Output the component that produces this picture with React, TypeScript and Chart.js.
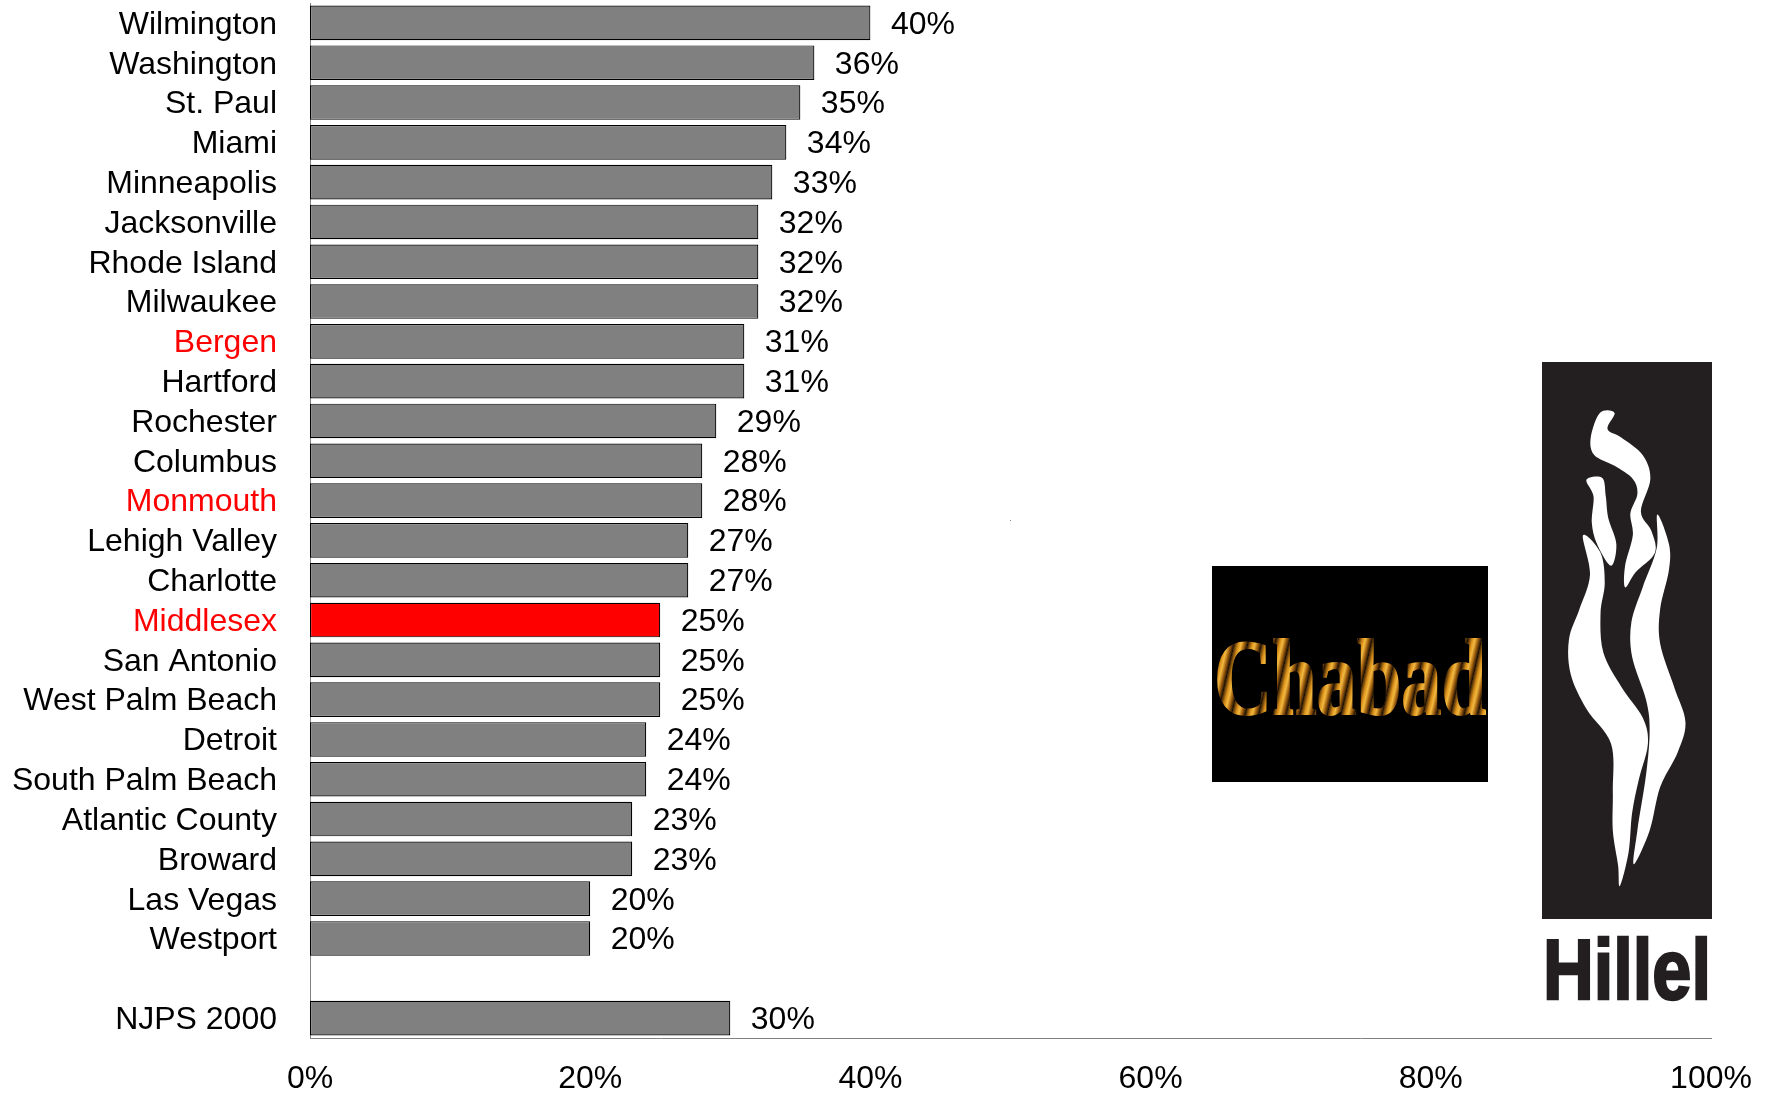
import React, { useEffect, useRef } from "react";
import { Chart, registerables } from "chart.js";

Chart.register(...registerables);

const categories = ["Wilmington","Washington","St. Paul","Miami","Minneapolis","Jacksonville","Rhode Island","Milwaukee","Bergen","Hartford","Rochester","Columbus","Monmouth","Lehigh Valley","Charlotte","Middlesex","San Antonio","West Palm Beach","Detroit","South Palm Beach","Atlantic County","Broward","Las Vegas","Westport","","NJPS 2000"];
const values = [40,36,35,34,33,32,32,32,31,31,29,28,28,27,27,25,25,25,24,24,23,23,20,20,null,30];
const redLabels = ["Bergen","Monmouth","Middlesex"];
const redBars = ["Middlesex"];
const xTicks = [0,20,40,60,80,100];

const FONT = "'Liberation Sans', Arial, sans-serif";
const FONT_SIZE = 32;

const flames = [
  [[1210,168],[1168,168],[1142,225],[1152,265],[1210,290],[1262,320],[1275,355],[1255,400],[1262,450],[1240,520],[1240,570],[1270,535],[1325,490],[1315,440],[1285,395],[1312,320],[1290,265],[1230,225],[1190,205]],
  [[1130,322],[1175,318],[1185,360],[1192,410],[1215,470],[1200,520],[1160,470],[1145,420],[1150,360]],
  [[1120,450],[1170,490],[1182,560],[1170,630],[1178,720],[1230,800],[1290,870],[1305,930],[1280,1010],[1260,1090],[1250,1180],[1225,1258],[1220,1210],[1205,1130],[1205,1040],[1200,930],[1130,850],[1085,770],[1080,690],[1110,620],[1140,540]],
  [[1332,402],[1365,470],[1365,530],[1340,620],[1340,700],[1380,800],[1412,880],[1390,950],[1340,1030],[1310,1130],[1265,1208],[1275,1130],[1300,1000],[1310,900],[1300,830],[1260,730],[1258,650],[1290,570],[1330,480]],
];

function smooth(p: number[][]) {
  const n = p.length;
  let d = `M${p[0][0]} ${p[0][1]}`;
  for (let i = 0; i < n; i++) {
    const a = p[(i - 1 + n) % n], b = p[i], c = p[(i + 1) % n], e = p[(i + 2) % n];
    const c1x = b[0] + (c[0] - a[0]) / 6, c1y = b[1] + (c[1] - a[1]) / 6;
    const c2x = c[0] - (e[0] - b[0]) / 6, c2y = c[1] - (e[1] - b[1]) / 6;
    d += ` C${c1x} ${c1y} ${c2x} ${c2y} ${c[0]} ${c[1]}`;
  }
  return d + "Z";
}

const valueLabels = {
  id: "valueLabels",
  beforeDraw(chart: any) {
    chart.scales.y.getLabelItems().forEach((item: any) => {
      item.options.translation = [item.options.translation[0], item.options.translation[1] + 2];
    });
  },
  afterDatasetsDraw(chart: any) {
    const { ctx } = chart;
    const meta = chart.getDatasetMeta(0);
    ctx.save();
    ctx.font = `${FONT_SIZE}px ${FONT}`;
    ctx.fillStyle = "#000";
    ctx.textAlign = "left";
    ctx.textBaseline = "middle";
    meta.data.forEach((bar: any, i: number) => {
      const v = values[i];
      if (v === null) return;
      ctx.fillText(`${v}%`, bar.x + 20.5, bar.y + 2);
    });
    ctx.restore();
  },
};

export default function App() {
  const ref = useRef<HTMLCanvasElement>(null);
  useEffect(() => {
    document.body.style.margin = "0";
    const chart = new Chart(ref.current as HTMLCanvasElement, {
      type: "bar",
      data: {
        labels: categories,
        datasets: [{
          data: values,
          backgroundColor: categories.map((c) => (redBars.includes(c) ? "#ff0000" : "#808080")),
          borderColor: "#000000",
          borderWidth: 1.2,
          borderSkipped: false,
          barPercentage: 0.87,
          categoryPercentage: 1,
        }],
      },
      options: {
        indexAxis: "y",
        animation: false,
        responsive: false,
        layout: { padding: { top: 3, right: 58, left: 0, bottom: 0 } },
        plugins: { legend: { display: false }, tooltip: { enabled: false } },
        scales: {
          x: {
            min: 0,
            max: 100,
            afterBuildTicks(axis: any) { axis.ticks = xTicks.map((value) => ({ value })); },
            afterFit(axis: any) { axis.height = 55; axis.paddingLeft = 0; axis.paddingRight = 0; },
            grid: { display: false, drawTicks: false },
            border: { color: "#808080", width: 1 },
            ticks: {
              padding: 22,
              maxRotation: 0,
              autoSkip: false,
              color: "#000",
              font: { family: FONT, size: FONT_SIZE },
              callback: (v: any) => `${v}%`,
            },
          },
          y: {
            afterFit(axis: any) { axis.width = 310; axis.paddingTop = 0; axis.paddingBottom = 0; },
            grid: { display: false, drawTicks: false },
            border: { color: "#808080", width: 1 },
            ticks: {
              padding: 33,
              autoSkip: false,
              font: { family: FONT, size: FONT_SIZE },
              color: (ctx: any) => (redLabels.includes(categories[ctx.index]) ? "#ff0000" : "#000000"),
            },
          },
        },
      },
      plugins: [valueLabels],
    } as any);
    return () => chart.destroy();
  }, []);

  return (
    <div style={{ position: "relative", width: 1769, height: 1093, background: "#fff", overflow: "hidden" }}>
      <canvas ref={ref} width={1769} height={1093} style={{ display: "block", position: "absolute", left: 0, top: 0 }} />
      <svg width={1769} height={1093} style={{ position: "absolute", left: 0, top: 0, pointerEvents: "none" }}>
        <defs>
          <linearGradient id="fire" gradientUnits="userSpaceOnUse" x1={0} y1={0} x2={13} y2={3} spreadMethod="repeat">
            <stop offset="0" stopColor="#3a2004" />
            <stop offset="0.3" stopColor="#d98f1a" />
            <stop offset="0.5" stopColor="#f3b93f" />
            <stop offset="0.75" stopColor="#9a5a0d" />
            <stop offset="1" stopColor="#140c03" />
          </linearGradient>
        </defs>
        <rect x={1010} y={520} width={1} height={1} fill="#808080" />
        <rect x={1212} y={566} width={276} height={216} fill="#000" />
        <text x={1214} y={714} fontFamily="'Liberation Serif', serif" fontWeight="bold" fontSize={108} textLength={272} lengthAdjust="spacingAndGlyphs" fill="url(#fire)" stroke="url(#fire)" strokeWidth={2}>Chabad</text>
        <rect x={1542} y={362} width={170} height={557} fill="#231f20" />
        <g transform="translate(1190 340) scale(0.35088 0.43403)" fill="#fff">
          {flames.map((f, i) => <path key={i} d={smooth(f)} />)}
        </g>
        <text x={1543} y={999} fontFamily="'Liberation Sans', Arial, sans-serif" fontWeight="bold" fontSize={86} textLength={168} lengthAdjust="spacingAndGlyphs" fill="#231f20" stroke="#231f20" strokeWidth={2.5}>Hillel</text>
      </svg>
    </div>
  );
}
